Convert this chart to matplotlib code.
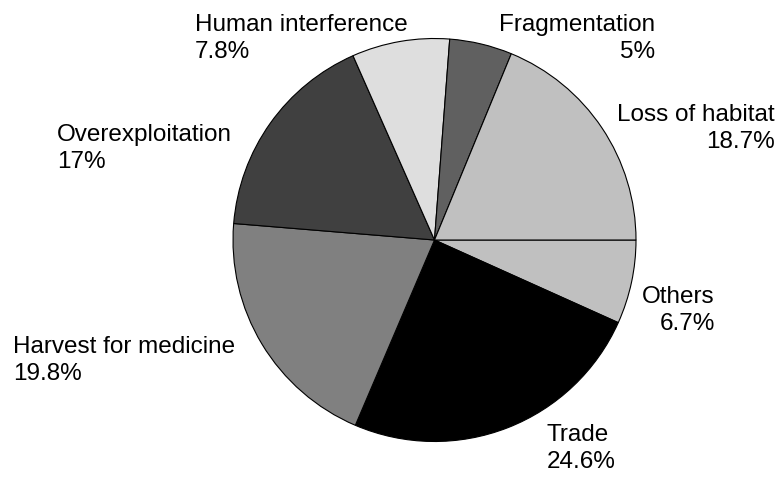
import matplotlib
matplotlib.use("Agg")
import matplotlib.pyplot as plt

categories = ["Others", "Trade", "Harvest for medicine", "Overexploitation",
              "Human interference", "Fragmentation", "Loss of habitat"]
percent_labels = ["6.7%", "24.6%", "19.8%", "17%", "7.8%", "5%", "18.7%"]
values = [6.7, 24.6, 19.8, 17.0, 7.8, 5.0, 18.7]
colors = ["#c0c0c0", "#000000", "#808080", "#404040", "#dedede", "#606060", "#c0c0c0"]

# label layout (pixel coords from top-left): anchor x, top y, alignment
label_layout = [
    (715, 286, "right"),
    (547, 424, "left"),
    (13, 336, "left"),
    (57, 124, "left"),
    (195, 14, "left"),
    (655, 14, "right"),
    (775, 104, "right"),
]

W, H = 779, 478
plt.rcParams["font.family"] = ["Liberation Sans", "DejaVu Sans"]
fig = plt.figure(figsize=(W / 100, H / 100), dpi=100)
ax = fig.add_axes([0, 0, 1, 1])

cx, cy, r = 434.5, H - 240, 201.5
ax.pie(values, colors=colors, startangle=0, counterclock=False,
       center=(cx, cy), radius=r, frame=True,
       wedgeprops=dict(edgecolor="black", linewidth=0.8))
ax.set_xlim(0, W)
ax.set_ylim(0, H)
ax.set_aspect("equal")
ax.axis("off")

for name, pct, (lx, ly, ha) in zip(categories, percent_labels, label_layout):
    ax.text(lx, H - ly, f"{name}\n{pct}", ha=ha, va="top", multialignment=ha,
            fontsize=17.5, color="black", linespacing=1.28)

fig.savefig("out.png", dpi=100)
